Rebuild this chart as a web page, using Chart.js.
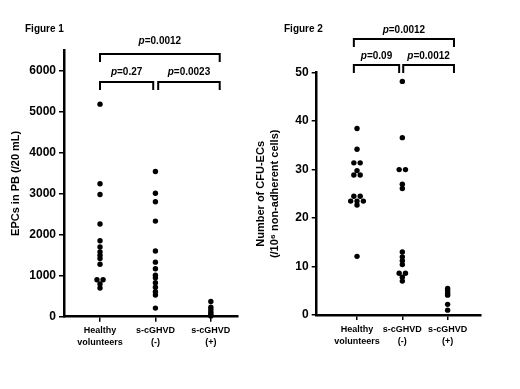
<!DOCTYPE html>
<html>
<head>
<meta charset="utf-8">
<script src="https://cdn.jsdelivr.net/npm/chart.js@4.4.1/dist/chart.umd.min.js"></script>
<style>
  html, body { margin: 0; padding: 0; background: #fff; }
  #wrap { position: relative; width: 520px; height: 389px; overflow: hidden; }
  .panel { position: absolute; top: 0; height: 389px; }
</style>
</head>
<body>
<div id="wrap">
  <div class="panel" style="left:0;width:260px"><canvas id="fig1"></canvas></div>
  <div class="panel" style="left:250px;width:270px"><canvas id="fig2"></canvas></div>
</div>
<script>
// categories (x axis, two lines each)
const groups = [['Healthy', 'volunteers'], ['s-cGHVD', '(-)'], ['s-cGHVD', '(+)']];

// Figure 1 - EPCs in PB (/20 mL)
const epcHealthy = [5180, 3240, 2980, 2260, 1850, 1700, 1580, 1500, 1420, 1280, 900, 900, 800, 700];
const epcNeg = [3540, 3010, 2800, 2330, 1600, 1330, 1170, 1010, 950, 830, 720, 610, 530, 210];
const epcPos = [370, 230, 170, 110, 60, 20];
const epcTicks = [0, 1000, 2000, 3000, 4000, 5000, 6000];

// Figure 2 - Number of CFU-ECs
const cfuHealthy = [38.5, 34.2, 31.4, 31.4, 29.8, 28.9, 28.9, 24.5, 24.5, 23.5, 23.5, 23.5, 22.7, 12.1];
const cfuNeg = [48.2, 36.6, 30.0, 30.0, 27.0, 26.1, 13.0, 12.0, 11.2, 10.4, 8.6, 8.6, 7.8, 7.0];
const cfuPos = [5.5, 5.0, 4.5, 4.1, 2.2, 1.0];
const cfuTicks = [0, 10, 20, 30, 40, 50];

// p-value brackets: from group, to group (slightly nudged), label
const epcBrackets = [
  { from: 1, to: 1.96, p: '=0.27', row: 0 },
  { from: 2.05, to: 3.16, p: '=0.0023', row: 0 },
  { from: 1, to: 3.16, p: '=0.0012', row: 1 }
];
const cfuBrackets = [
  { from: 0.93, to: 1.93, p: '=0.09', row: 0 },
  { from: 2.02, to: 3.14, p: '=0.0012', row: 0 },
  { from: 0.93, to: 3.14, p: '=0.0012', row: 1 }
];

const FONT = "'Liberation Sans', Arial, sans-serif";

// identical values are put side by side, centred on the group
function swarm(values, cat, dx) {
  const counts = {};
  values.forEach(v => counts[v] = (counts[v] || 0) + 1);
  const seen = {};
  return values.map(v => {
    seen[v] = (seen[v] === undefined) ? 0 : seen[v] + 1;
    return { x: cat + (seen[v] - (counts[v] - 1) / 2) * dx, y: v };
  });
}

function makeDataset(values, cat, dx) {
  return {
    data: swarm(values, cat, dx),
    pointRadius: 2.7,
    pointBackgroundColor: '#000',
    pointBorderWidth: 0,
    showLine: false,
    clip: false
  };
}

const annotPlugin = {
  id: 'annot',
  afterDraw(chart, args, opts) {
    const ctx = chart.ctx;
    const xs = chart.scales.x;
    ctx.save();
    ctx.fillStyle = '#000';
    ctx.strokeStyle = '#000';
    ctx.font = 'bold 10px ' + FONT;
    ctx.textBaseline = 'middle';
    ctx.textAlign = 'left';
    ctx.fillText(opts.figure, opts.figX, opts.figY);

    ctx.lineWidth = 2;
    opts.brackets.forEach(b => {
      const x1 = xs.getPixelForValue(b.from);
      const x2 = xs.getPixelForValue(b.to);
      const y = opts.rowY[b.row];
      ctx.beginPath();
      ctx.moveTo(x1, y + 8);
      ctx.lineTo(x1, y);
      ctx.lineTo(x2, y);
      ctx.lineTo(x2, y + 8);
      ctx.stroke();

      // italic p then the value
      const pFont = 'italic bold 10px ' + FONT;
      const vFont = 'bold 10px ' + FONT;
      ctx.font = pFont;
      const wp = ctx.measureText('p').width;
      ctx.font = vFont;
      const wv = ctx.measureText(b.p).width;
      let tx = (x1 + x2) / 2 - (wp + wv) / 2;
      const ty = y - opts.labelGap[b.row];
      ctx.font = pFont;
      ctx.fillText('p', tx, ty);
      ctx.font = vFont;
      ctx.fillText(b.p, tx + wp, ty);
    });
    ctx.restore();
  }
};

function buildChart(canvas, cfg) {
  return new Chart(canvas, {
    type: 'scatter',
    data: {
      datasets: cfg.series.map((vals, i) => makeDataset(vals, i + 1, cfg.dx))
    },
    options: {
      responsive: true,
      maintainAspectRatio: false,
      animation: false,
      layout: { padding: { left: 0, right: cfg.padRight, top: cfg.padTop, bottom: 0 } },
      plugins: {
        legend: { display: false },
        tooltip: { enabled: false },
        annot: cfg.annot
      },
      scales: {
        x: {
          type: 'linear',
          min: cfg.xMin,
          max: cfg.xMax,
          afterBuildTicks: s => { s.ticks = groups.map((g, i) => ({ value: i + 1 })); },
          afterFit: s => { s.height = cfg.xHeight; },
          ticks: {
            autoSkip: false,
            maxRotation: 0,
            color: '#000',
            padding: 3,
            font: { family: FONT, size: 9, weight: 'bold', lineHeight: 1.35 },
            callback: v => groups[v - 1] || ''
          },
          grid: { drawOnChartArea: false, color: '#000', lineWidth: 1.5, tickLength: 5 },
          border: { color: '#000', width: 2.5 }
        },
        y: {
          min: 0,
          max: cfg.yMax,
          afterBuildTicks: s => { s.ticks = cfg.yTicks.map(v => ({ value: v })); },
          afterFit: s => { s.width = cfg.yWidth; },
          ticks: {
            color: '#000',
            padding: 3,
            font: { family: FONT, size: 12, weight: 'bold' },
            callback: v => String(v)
          },
          grid: { drawOnChartArea: false, color: '#000', lineWidth: 1.5, tickLength: 5 },
          border: { color: '#000', width: 2.5 },
          title: {
            display: true,
            text: cfg.yTitle,
            color: '#000',
            padding: { top: cfg.titlePad, bottom: 0 },
            font: { family: FONT, size: 11, weight: 'bold', lineHeight: 1.3 }
          }
        }
      }
    },
    plugins: [annotPlugin]
  });
}

buildChart(document.getElementById('fig1'), {
  series: [epcHealthy, epcNeg, epcPos],
  dx: 0.11,
  xMin: 0.35, xMax: 3.49,
  yMax: 6500, yTicks: epcTicks,
  yWidth: 64, xHeight: 72.3,
  padTop: 50, padRight: 22,
  titlePad: 9,
  yTitle: 'EPCs in PB (/20 mL)',
  annot: {
    figure: 'Figure 1', figX: 25, figY: 29,
    brackets: epcBrackets,
    rowY: [82, 54],
    labelGap: [10, 13]
  }
});

buildChart(document.getElementById('fig2'), {
  series: [cfuHealthy, cfuNeg, cfuPos],
  dx: 0.14,
  xMin: 0.11, xMax: 3.73,
  yMax: 50, yTicks: cfuTicks,
  yWidth: 66.7, xHeight: 74,
  padTop: 72.7, padRight: 39.3,
  titlePad: 4,
  yTitle: ['Number of CFU-ECs', '(/10\u2076 non-adherent cells)'],
  annot: {
    figure: 'Figure 2', figX: 34, figY: 29,
    brackets: cfuBrackets,
    rowY: [65, 39],
    labelGap: [9, 9]
  }
});
</script>
</body>
</html>
